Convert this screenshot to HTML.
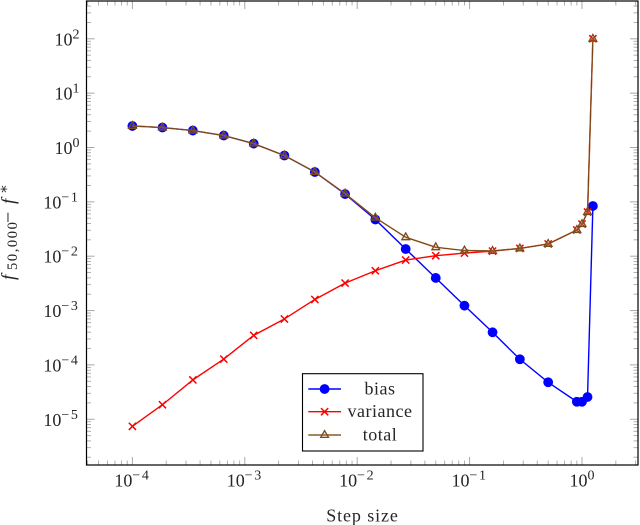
<!DOCTYPE html>
<html>
<head>
<meta charset="utf-8">
<style>
html,body{margin:0;padding:0;background:#fff;}
svg{display:block;}
text{font-family:"Liberation Serif","DejaVu Serif",serif;fill:#262626;}
</style>
</head>
<body>
<svg id="chart" xmlns="http://www.w3.org/2000/svg" width="640" height="525" viewBox="0 0 640 525">
  <rect x="0" y="0" width="640" height="525" fill="#fff"/>
  <g id="ticks"></g>
  <g id="labels"></g>
  <g id="series"></g>
  <rect x="86.5" y="1" width="551.5" height="464" fill="none" stroke="#000" stroke-width="1.2"/>
  <text x="362.5" y="521.5" font-size="18" text-anchor="middle" letter-spacing="0.9">Step size</text>
  <text transform="translate(14.5,0) rotate(-90)" font-size="19"><tspan x="-280" y="0" font-style="italic">f</tspan><tspan x="-270" y="2.5" font-size="14.5" letter-spacing="1.6">50,000</tspan><tspan x="-223" y="0" font-size="20">−</tspan><tspan x="-204" y="0" font-style="italic">f</tspan><tspan x="-194" y="-6" font-size="14.5">∗</tspan></text>
  <g id="legend">
    <rect x="302.5" y="373.7" width="120.5" height="77.3" fill="#fff" stroke="#000" stroke-width="1.1"/>
  </g>
</svg>
<script>
const stepSizes = [1e-4,1.85e-4,3.45e-4,6.5e-4,1.2e-3,2.25e-3,4.2e-3,7.8e-3,1.45e-2,2.7e-2,5e-2,9e-2,0.16,0.28,0.5,0.9,1,1.12,1.25];
const biasValues = [2.49,2.33,2.05,1.66,1.18,0.712,0.354,0.139,0.0473,0.01356,0.00398,0.00123,0.000398,0.000127,4.79e-5,2.1e-5,2.1e-5,2.57e-5,0.084];
const varianceValues = [7.4e-6,1.85e-5,5.3e-5,1.28e-4,3.5e-4,7e-4,1.6e-3,3.2e-3,5.4e-3,8.5e-3,0.0102,0.0114,0.0124,0.0139,0.0168,0.0303,0.039,0.065,100];
const totalValues = [2.49,2.33,2.05,1.66,1.18,0.712,0.354,0.142,0.051,0.0223,0.0146,0.0127,0.0125,0.0139,0.0168,0.0303,0.039,0.065,100];
const xTickExponents = [-4,-3,-2,-1,0];
const yTickExponents = [2,1,0,-1,-2,-3,-4,-5];
const seriesNames = ["bias","variance","total"];

const NS = "http://www.w3.org/2000/svg";
function xScale(v){ return 582 + 112.4 * Math.log10(v); }
function yScale(v){ return 147.5 - 54.35 * Math.log10(v); }
const LEFT = 86.5, RIGHT = 638, TOP = 1, BOTTOM = 465;

function make(tag, attrs, parent){
  const el = document.createElementNS(NS, tag);
  for (const k in attrs) el.setAttribute(k, attrs[k]);
  parent.appendChild(el);
  return el;
}
const ticksG = document.getElementById("ticks");
const labelsG = document.getElementById("labels");
const seriesG = document.getElementById("series");
const legendG = document.getElementById("legend");
const TICK = "#a8a8a8";

function tickLine(x1,y1,x2,y2,major){
  const l = make("line",{x1:x1,y1:y1,x2:x2,y2:y2,stroke:TICK,"stroke-width":major?1:0.9},ticksG);
  
  
}
function xTicksAt(v, major){
  const x = xScale(v);
  if (x <= LEFT || x >= RIGHT) return;
  const len = major ? 8 : 4.5;
  tickLine(x,BOTTOM,x,BOTTOM-len,major);
  tickLine(x,TOP,x,TOP+len,major);
}
function yTicksAt(v, major){
  const y = yScale(v);
  if (y <= TOP || y >= BOTTOM) return;
  const len = major ? 8 : 4.5;
  tickLine(LEFT,y,LEFT+len,y,major);
  tickLine(RIGHT,y,RIGHT-len,y,major);
}
for (let e = -5; e <= 1; e++){
  xTicksAt(Math.pow(10,e), true);
  for (let m = 2; m <= 9; m++) xTicksAt(m*Math.pow(10,e), false);
}
for (let e = -6; e <= 3; e++){
  yTicksAt(Math.pow(10,e), true);
  for (let m = 2; m <= 9; m++) yTicksAt(m*Math.pow(10,e), false);
}

function powerLabel(exp, x, y, anchor, name){
  const t = make("text",{x:x,y:y,"font-size":18,"text-anchor":anchor},labelsG);
  
  
  t.appendChild(document.createTextNode("10"));
  const s = make("tspan",{"font-size":14,dy:-7,"letter-spacing":exp < 0 ? 1.6 : 0},t);
  s.textContent = exp < 0 ? "−" + (-exp) : String(exp);
}
xTickExponents.forEach(function(e){
  const cx = xScale(Math.pow(10,e));
  powerLabel(e, cx, 486.5, "middle", "x-tick-label");
});
yTickExponents.forEach(function(e){
  const cy = yScale(Math.pow(10,e));
  powerLabel(e, 79.5, cy + 6.5, "end", "y-tick-label");
});

function markerCircle(parent,x,y){
  const c = make("circle",{cx:x,cy:y,r:4.6,fill:"#0000ff",stroke:"#0000ff","stroke-width":0.6},parent);
  
  
}
function markerCross(parent,x,y){
  const d = 3.6;
  const p = make("path",{d:"M"+(x-d)+" "+(y-d)+"L"+(x+d)+" "+(y+d)+"M"+(x-d)+" "+(y+d)+"L"+(x+d)+" "+(y-d),stroke:"#ff0000","stroke-width":1.5,fill:"none"},parent);
  
  
}
function markerTriangle(parent,x,y){
  const p = make("polygon",{points:x+","+(y-4.4)+" "+(x+3.9)+","+(y+2.4)+" "+(x-3.9)+","+(y+2.4),fill:"#bf8040","fill-opacity":0.2,stroke:"#7a4c1e","stroke-width":1.3},parent);
  
  
}
function drawLine(values, color, width, name){
  const d = values.map(function(v,i){
    return (i ? "L" : "M") + xScale(stepSizes[i]).toFixed(2) + " " + yScale(v).toFixed(2);
  }).join("");
  const p = make("path",{d:d,fill:"none",stroke:color,"stroke-width":width,"stroke-linejoin":"round"},seriesG);
  
  
}

drawLine(biasValues,"#0000ff",1.4,"bias-line");
biasValues.forEach(function(v,i){ markerCircle(seriesG,xScale(stepSizes[i]),yScale(v)); });
drawLine(varianceValues,"#ff0000",1.4,"variance-line");
varianceValues.forEach(function(v,i){ markerCross(seriesG,xScale(stepSizes[i]),yScale(v)); });
drawLine(totalValues,"#bf8040",1.5,"total-line-halo");
drawLine(totalValues,"#6b3f14",0.9,"total-line");
totalValues.forEach(function(v,i){ markerTriangle(seriesG,xScale(stepSizes[i]),yScale(v)); });

const legendRows = [389, 411.7, 435];
const legendColors = ["#0000ff","#ff0000","#8a5a2b"];
const legendMarkers = [markerCircle, markerCross, markerTriangle];
seriesNames.forEach(function(name,i){
  const y = legendRows[i];
  const l = make("line",{x1:308.3,y1:y,x2:341,y2:y,stroke:legendColors[i],"stroke-width":1.4},legendG);
  
  
  legendMarkers[i](legendG,324.6,y);
  const t = make("text",{x:380,y:y+5.5,"font-size":18,"text-anchor":"middle","letter-spacing":0.5},legendG);
  
  
  t.textContent = name;
});
</script>
</body>
</html>
